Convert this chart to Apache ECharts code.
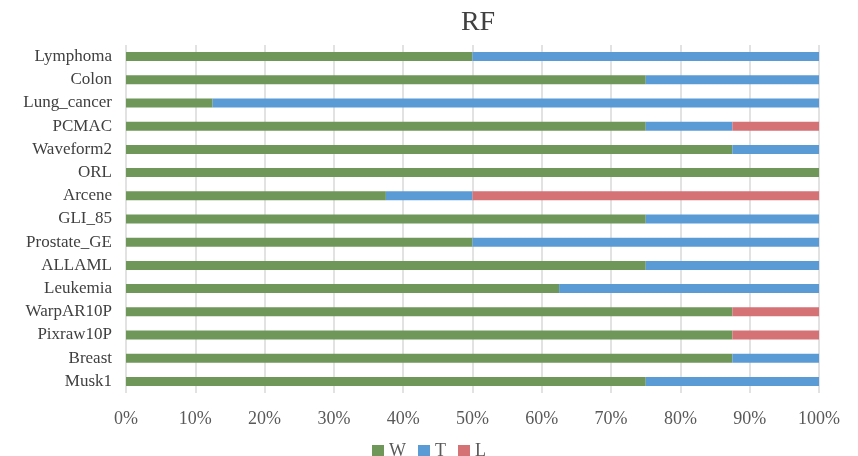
<!DOCTYPE html>
<html>
<head>
<meta charset="utf-8">
<script src="https://cdn.jsdelivr.net/npm/echarts@6/dist/echarts.min.js"></script>
<style>
  html, body { margin: 0; padding: 0; background: #fff; }
  #chart { width: 858px; height: 456px; }
</style>
</head>
<body>
<div id="chart"></div>
<script>
// Datasets, top to bottom
const categories = ['Lymphoma', 'Colon', 'Lung_cancer', 'PCMAC', 'Waveform2', 'ORL', 'Arcene',
  'GLI_85', 'Prostate_GE', 'ALLAML', 'Leukemia', 'WarpAR10P', 'Pixraw10P', 'Breast', 'Musk1'];
// Share of win / tie / loss (percent)
const winPct  = [50, 75, 12.5, 75, 87.5, 100, 37.5, 75, 50, 75, 62.5, 87.5, 87.5, 87.5, 75];
const tiePct  = [50, 25, 87.5, 12.5, 12.5, 0, 12.5, 25, 50, 25, 37.5, 0, 0, 12.5, 25];
const lossPct = [0, 0, 0, 12.5, 0, 0, 50, 0, 0, 0, 0, 12.5, 12.5, 0, 0];

const font = '"Liberation Serif", "Times New Roman", serif';
const chart = echarts.init(document.getElementById('chart'), null, { renderer: 'canvas' });

function barSeries(name, data, color) {
  return {
    name: name,
    type: 'bar',
    stack: 'total',
    barWidth: 9,
    itemStyle: { color: color },
    data: data
  };
}

chart.setOption({
  animation: false,
  title: {
    text: 'RF',
    left: 473,
    top: 4,
    textAlign: 'center',
    textStyle: { fontFamily: font, fontSize: 28, fontWeight: 'normal', color: '#404040' }
  },
  legend: {
    top: 437,
    left: 'center',
    itemWidth: 12,
    itemHeight: 12,
    itemGap: 12,
    icon: 'rect',
    textStyle: { fontFamily: font, fontSize: 18, color: '#595959' },
    data: ['W', 'T', 'L']
  },
  grid: { left: 126, right: 39, top: 45, bottom: 63, containLabel: false },
  xAxis: {
    type: 'value',
    min: 0,
    max: 100,
    interval: 10,
    axisLine: { show: false },
    axisTick: { show: false },
    axisLabel: { formatter: '{value}%', fontFamily: font, fontSize: 18, color: '#595959', margin: 17 },
    splitLine: { lineStyle: { color: '#D9D9D9', width: 1.5 } }
  },
  yAxis: {
    type: 'category',
    inverse: true,
    data: categories,
    axisLine: { show: false },
    axisTick: { show: false },
    axisLabel: { interval: 0, fontFamily: font, fontSize: 17, color: '#404040', margin: 14 }
  },
  series: [
    barSeries('W', winPct, '#6F9759'),
    barSeries('T', tiePct, '#5B9BD5'),
    barSeries('L', lossPct, '#D47276')
  ]
});
</script>
</body>
</html>
